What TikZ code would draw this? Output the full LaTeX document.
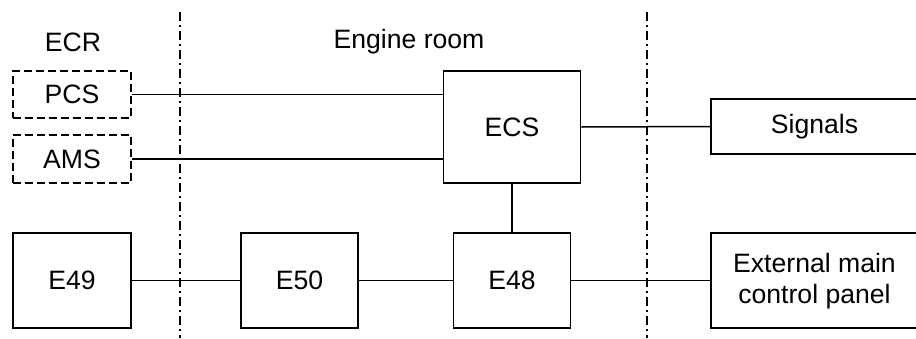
\documentclass[tikz,border=0pt]{standalone}
\usepackage{fontspec}
\setmainfont{Liberation Sans}
\usetikzlibrary{positioning}

\begin{document}
\begin{tikzpicture}[x=0.5pt,y=-0.5pt,line width=0.75pt,
    font=\fontsize{13.3}{15.5}\selectfont]

  \tikzset{
    unit/.style={draw,rectangle,inner sep=0pt},
    extunit/.style={unit,dash pattern=on 4pt off 2pt},
    zone/.style={dash pattern=on 4.5pt off 2pt on 1pt off 2pt}
  }

  \useasboundingbox (0,0) rectangle (916,338);
  \clip (0,0) rectangle (916,338);

  % ------- 区画見出し -------
  \node (ecrlbl)  at (73,42)  {ECR};
  \node (erlbl)   at (409,42) {Engine room};

  % ------- 区画の境界（一点鎖線） -------
  \draw[zone] (180,12) -- (180,338);
  \draw[zone] (647,12) -- (647,338);

  %================= 上段 =================
  \node[extunit,minimum width=59pt,minimum height=23.5pt] (pcs) at (72,94.5) {PCS};
  \node[extunit,minimum width=59pt,minimum height=24pt]   (ams) at (72,159)  {AMS};
  \node[unit,minimum width=68.5pt,minimum height=56pt]    (ecs) at (512,127) {ECS};
  \node[unit,minimum width=103.5pt,minimum height=27.5pt] (sig) at (814.5,126.5) {Signals};

  %================= 下段 =================
  \node[unit,minimum width=59pt,minimum height=47.5pt]  (e49) at (72,280.5)  {E49};
  \node[unit,minimum width=58.5pt,minimum height=47.5pt] (e50) at (299.5,280.5) {E50};
  \node[unit,minimum width=58.5pt,minimum height=47.5pt] (e48) at (512,280.5) {E48};
  \node[unit,minimum width=103.5pt,minimum height=47.5pt,align=center,
        text depth=2pt] (ext) at (814.5,280.5)
    {External main\\control panel};

  % ------- 接続線 -------
  \draw (pcs.east) -- (pcs.east -| ecs.west);
  \draw (ams.east) -- (ams.east -| ecs.west);
  \draw (ecs.east) -- (sig.west);
  \draw (ecs.south) -- (e48.north);
  \draw (e49.east) -- (e50.west);
  \draw (e50.east) -- (e48.west);
  \draw (e48.east) -- (ext.west);

\end{tikzpicture}
\end{document}
